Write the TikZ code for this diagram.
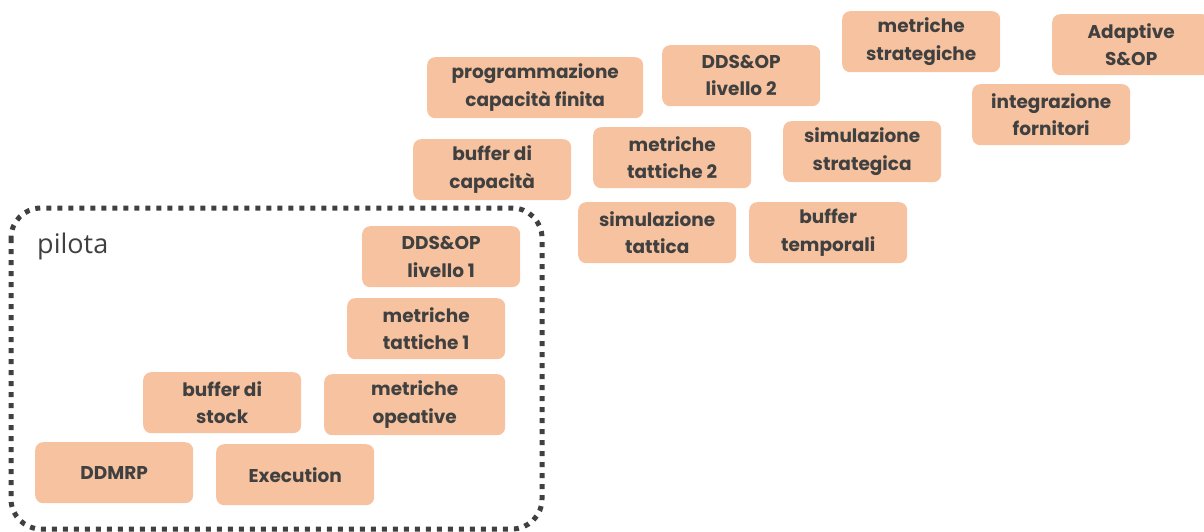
\documentclass[tikz,border=0pt]{standalone}
\usepackage{fontspec}
\setmainfont{Poppins}
\newfontfamily\labelfont{Open Sans}
\begin{document}
\begin{tikzpicture}[x=1pt,y=-1pt,
  stepbox/.style={fill=boxfill, draw=none, rounded corners=8pt, anchor=north west,
    inner sep=0pt, minimum height=61pt, minimum width=158pt, align=center,
    text=boxtext, font=\fontsize{18.5}{27.5}\selectfont\bfseries},
  pilotframe/.style={draw=framegray, line width=5pt, dash pattern=on 5pt off 6pt,
    rounded corners=30pt}]
\definecolor{boxfill}{HTML}{F6C29F}
\definecolor{boxtext}{HTML}{404040}
\definecolor{framegray}{HTML}{404040}
\useasboundingbox (0,0) rectangle (1204,532);
\clip (0,0) rectangle (1204,532);

% pilot phase frame and its label
\draw[pilotframe] (11,208) rectangle (542,529);
\node[anchor=base west, inner sep=0pt, text=boxtext, font=\labelfont\fontsize{27}{30}\selectfont] (pilota) at (37,253) {pilota};

% pilot phase blocks
\node[stepbox] (ddmrp) at (35,442) {DDMRP};
\node[stepbox] (exec) at (216,444) {Execution};
\node[stepbox] (bstock) at (143,372) {buffer di\\stock};
\node[stepbox, minimum width=181pt] (mop) at (324,374) {metriche\\opeative};
\node[stepbox] (mtt1) at (347,298) {metriche\\tattiche 1};
\node[stepbox] (ddsop1) at (362,226) {DDS\&OP\\livello 1};

% tactical blocks
\node[stepbox] (bcap) at (413,139) {buffer di\\capacità};
\node[stepbox, minimum width=216pt] (prog) at (427,57) {programmazione\\capacità finita};
\node[stepbox] (simt) at (578,202) {simulazione\\tattica};
\node[stepbox] (mtt2) at (593,127) {metriche\\tattiche 2};
\node[stepbox] (ddsop2) at (662,45) {DDS\&OP\\livello 2};
\node[stepbox] (btemp) at (749,202) {buffer\\temporali};

% strategic blocks
\node[stepbox] (sims) at (783,121) {simulazione\\strategica};
\node[stepbox] (mstr) at (842,11) {metriche\\strategiche};
\node[stepbox] (integ) at (972,84) {integrazione\\fornitori};
\node[stepbox] (asop) at (1052,14) {Adaptive\\S\&OP};
\end{tikzpicture}
\end{document}
